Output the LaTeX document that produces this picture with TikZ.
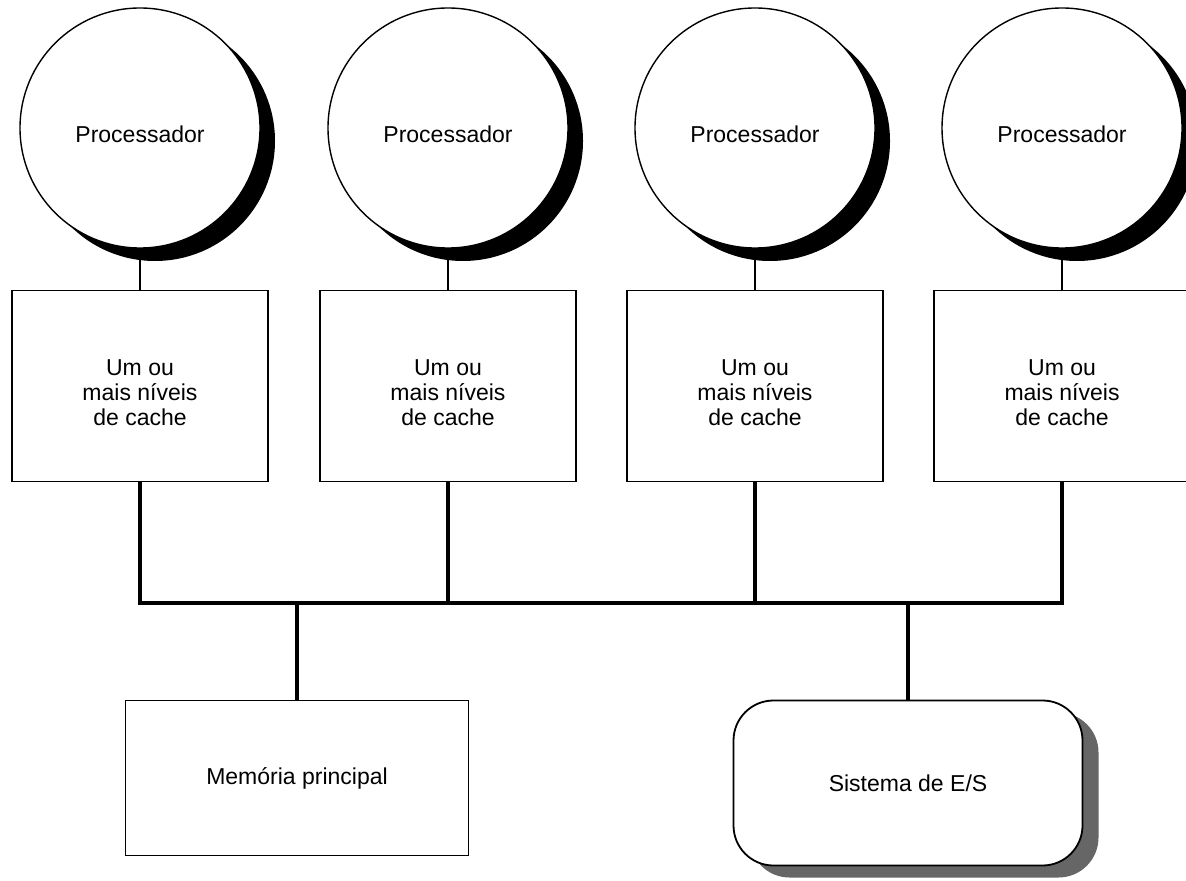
\documentclass[tikz,border=0pt]{standalone}
\usepackage{fontspec}
\setmainfont{Liberation Sans}
\usetikzlibrary{shadows}
\tikzset{
  txt/.style={font=\fontsize{11.5pt}{12.5pt}\selectfont,align=center,inner sep=0pt},
  lowtxt/.style={execute at begin node={\rule{0pt}{14.5pt}}},
  cpu/.style={txt,lowtxt,circle,draw=black,line width=0.7pt,fill=white,minimum size=120pt,
    drop shadow={shadow xshift=7.5pt,shadow yshift=-6.5pt,fill=black,opacity=1}},
  cachebox/.style={txt,rectangle,draw=black,line width=0.9pt,fill=white,
    minimum width=128pt,minimum height=95.5pt},
  membox/.style={txt,rectangle,draw=black,line width=0.9pt,fill=white,
    minimum width=171.5pt,minimum height=77.5pt},
  iobox/.style={txt,rectangle,rounded corners=20pt,draw=black,line width=0.9pt,fill=white,
    minimum width=174.5pt,minimum height=82.5pt,
    drop shadow={shadow xshift=8pt,shadow yshift=-6pt,fill=black!60,opacity=1}},
  link/.style={draw=black,line width=0.6pt},
  bus/.style={draw=black,line width=2.3pt}
}
\newcommand{\cachetext}{\rule{0pt}{14.5pt}Um ou\\mais níveis\\de cache}
\begin{document}
\begin{tikzpicture}[x=0.5pt,y=-0.5pt]
  \clip (0,0) rectangle (1186,881);
  \node[cpu] (p1) at ( 140,128) {Processador};
  \node[cpu] (p2) at ( 448,128) {Processador};
  \node[cpu] (p3) at ( 755,128) {Processador};
  \node[cpu] (p4) at (1062,128) {Processador};
  \node[cachebox] (c1) at ( 140,386) {\cachetext};
  \node[cachebox] (c2) at ( 448,386) {\cachetext};
  \node[cachebox] (c3) at ( 755,386) {\cachetext};
  \node[cachebox] (c4) at (1062,386) {\cachetext};
  \node[membox] (mem) at ( 297,778) {Memória principal};
  \node[iobox]  (es)  at ( 908,783) {Sistema de E/S};
  \coordinate (busy) at (0,603);
  \draw[link] (p1.south) -- (c1.north);
  \draw[link] (p2.south) -- (c2.north);
  \draw[link] (p3.south) -- (c3.north);
  \draw[link] (p4.south) -- (c4.north);
  \draw[bus] (c1.south) |- (c4.south |- busy) -- (c4.south);
  \draw[bus] (c2.south) -- (c2.south |- busy);
  \draw[bus] (c3.south) -- (c3.south |- busy);
  \draw[bus] (mem.north) -- (mem.north |- busy);
  \draw[bus] (es.north) -- (es.north |- busy);
\end{tikzpicture}
\end{document}
